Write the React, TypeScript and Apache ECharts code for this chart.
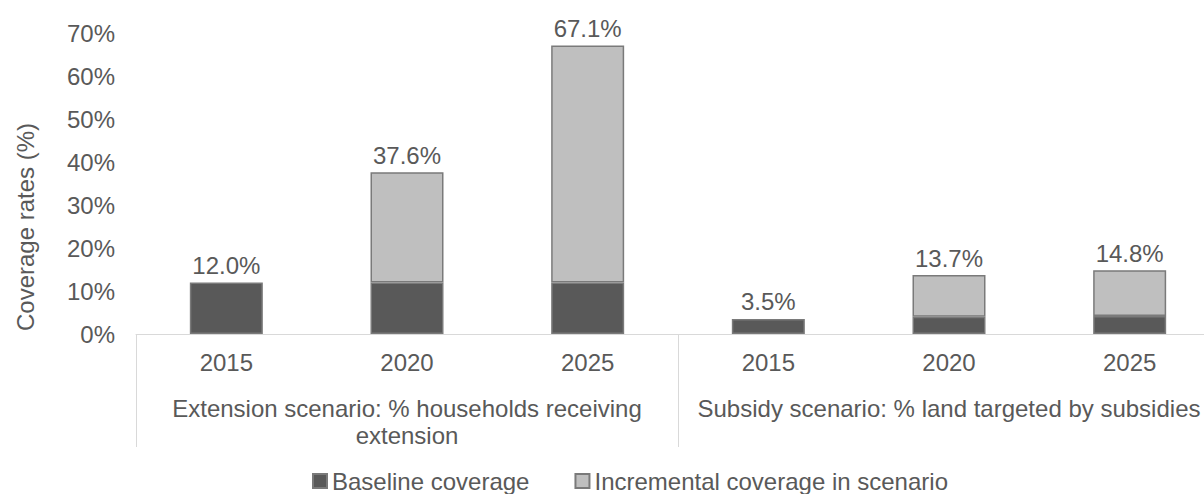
import React, { useEffect, useRef } from "react";
import * as echarts from "echarts";

// Scenario years and group titles
const years = ["2015", "2020", "2025", "2015", "2020", "2025"];
const scenarioGroups = [
  "Extension scenario: % households receiving\nextension",
  "Subsidy scenario: % land targeted by subsidies",
];

// Coverage rates (%)
const baseline = [12.0, 12.0, 12.0, 3.5, 4.0, 4.2];
const totals = [12.0, 37.6, 67.1, 3.5, 13.7, 14.8];

const seriesNames = ["Baseline coverage", "Incremental coverage in scenario"];

const yTicks = { min: 0, max: 70, interval: 10 };

const FONT = "'Liberation Sans', Arial, sans-serif";
const TEXT = "#595959";
const AXIS = "#d9d9d9";

export default function App() {
  const ref = useRef<HTMLDivElement>(null);

  useEffect(() => {
    document.body.style.margin = "0";
    if (!ref.current) return;
    const chart = echarts.init(ref.current, null, { renderer: "svg" });

    const incremental = totals.map((t, i) => +(t - baseline[i]).toFixed(1));

    chart.setOption({
      animation: false,
      textStyle: { fontFamily: FONT },
      grid: { left: 136, right: 0, top: 33, bottom: 160, containLabel: false },
      legend: {
        left: 312,
        top: 469,
        padding: 0,
        itemWidth: 14,
        itemHeight: 14,
        itemGap: 45,
        icon: "rect",
        textStyle: { fontSize: 24, color: TEXT, fontFamily: FONT },
        data: seriesNames,
      },
      graphic: [
        {
          type: "text",
          x: 25,
          y: 227,
          rotation: Math.PI / 2,
          style: {
            text: "Coverage rates (%)",
            fontSize: 24,
            fontFamily: FONT,
            fill: TEXT,
            align: "center",
            verticalAlign: "middle",
          },
        },
      ],
      xAxis: [
        {
          type: "category",
          data: years,
          position: "bottom",
          axisLine: { show: true, lineStyle: { color: AXIS, width: 1 } },
          axisTick: { show: false },
          axisLabel: {
            interval: 0,
            margin: 16,
            fontSize: 24,
            color: TEXT,
            fontFamily: FONT,
          },
        },
        {
          type: "category",
          data: scenarioGroups,
          position: "bottom",
          axisLine: { show: false },
          axisTick: {
            show: true,
            interval: 0,
            length: 113,
            lineStyle: { color: AXIS, width: 1 },
          },
          axisLabel: {
            interval: 0,
            margin: 61,
            fontSize: 24,
            lineHeight: 27,
            color: TEXT,
            fontFamily: FONT,
            align: "center",
          },
        },
      ],
      yAxis: {
        type: "value",
        min: yTicks.min,
        max: yTicks.max,
        interval: yTicks.interval,
        axisLine: { show: false },
        axisTick: { show: false },
        splitLine: { show: false },
        axisLabel: {
          margin: 21,
          fontSize: 24,
          color: TEXT,
          fontFamily: FONT,
          formatter: "{value}%",
        },
      },
      series: [
        {
          name: seriesNames[0],
          type: "bar",
          stack: "cov",
          barWidth: 73,
          xAxisIndex: 0,
          data: baseline,
          itemStyle: { color: "#595959", borderColor: "#7a7a7a", borderWidth: 1.5 },
        },
        {
          name: seriesNames[1],
          type: "bar",
          stack: "cov",
          barWidth: 73,
          xAxisIndex: 0,
          data: incremental.map((v) =>
            v === 0 ? { value: v, itemStyle: { borderWidth: 0 } } : v
          ),
          itemStyle: { color: "#bfbfbf", borderColor: "#7a7a7a", borderWidth: 1.5 },
          label: {
            show: true,
            position: "top",
            distance: 5,
            fontSize: 24,
            color: TEXT,
            fontFamily: FONT,
            formatter: (p: any) => totals[p.dataIndex].toFixed(1) + "%",
          },
        },
      ],
    });

    return () => chart.dispose();
  }, []);

  // The plot runs a little past the right edge of the visible frame
  return (
    <div style={{ width: 1204, height: 494, overflow: "hidden" }}>
      <div ref={ref} style={{ width: 1220, height: 494 }} />
    </div>
  );
}
